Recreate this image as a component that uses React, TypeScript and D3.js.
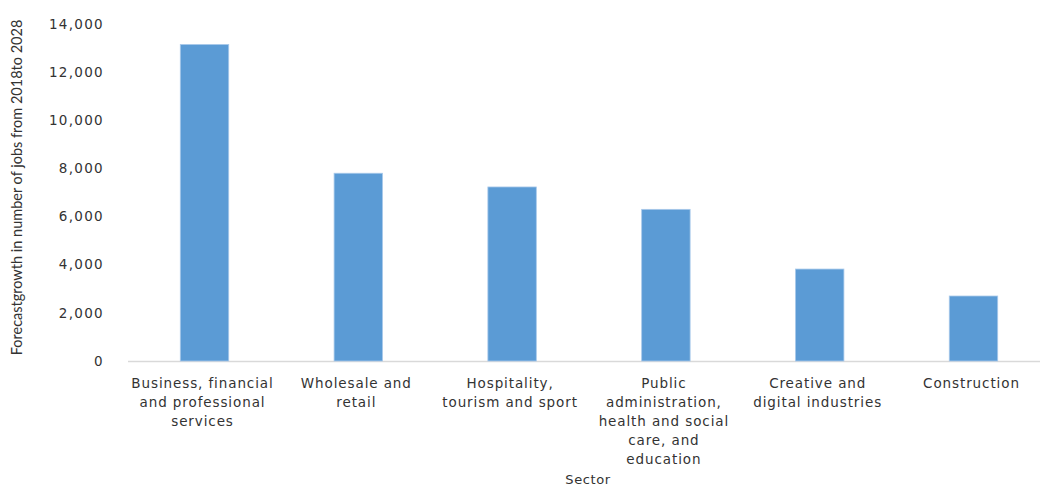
import React from "react";
import * as d3 from "d3";

const categories: string[][] = [
  ["Business, financial", "and professional", "services"],
  ["Wholesale and", "retail"],
  ["Hospitality,", "tourism and sport"],
  ["Public", "administration,", "health and social", "care, and", "education"],
  ["Creative and", "digital industries"],
  ["Construction"],
];
const values: number[] = [13150, 7800, 7230, 6300, 3820, 2700];
const yTicks: number[] = [0, 2000, 4000, 6000, 8000, 10000, 12000, 14000];
const yTitle = "Forecastgrowth in number of jobs from 2018to 2028";
const xTitle = "Sector";

const W = 1040;
const H = 486;
const left = 128;
const right = 1050;
const top = 24;
const bottom = 361;

export default function App() {
  const keys = categories.map((_, i) => String(i));
  const x = d3.scaleBand<string>().domain(keys).range([left, right]).paddingInner(0.685).paddingOuter(0.34);
  const y = d3.scaleLinear().domain([0, 14000]).range([bottom, top]);
  const fmt = d3.format(",");
  const textColor = "#333333";
  return (
    <svg width={W} height={H} style={{ position: "absolute", left: 0, top: 0, background: "#fff" }}>
      <line x1={left} x2={W} y1={bottom + 0.5} y2={bottom + 0.5} stroke="#d9d9d9" strokeWidth={1.5} />
      {values.map((v, i) => (
        <rect
          key={i}
          x={x(String(i))!}
          y={y(v)}
          width={x.bandwidth()}
          height={bottom - y(v)}
          fill="#5b9bd5"
          stroke="#a9c9ea"
          strokeWidth={0.8}
        />
      ))}
      {yTicks.map((t) => (
        <text
          key={t}
          x={104}
          y={y(t)}
          dy="0.35em"
          textAnchor="end"
          fontFamily="DejaVu Sans"
          fontSize={13.5}
          letterSpacing={1.3}
          fill={textColor}
        >
          {fmt(t)}
        </text>
      ))}
      {categories.map((lines, i) => {
        const cx = x(String(i))! + x.bandwidth() / 2 - 2;
        return (
          <text
            key={i}
            x={cx}
            y={388}
            textAnchor="middle"
            fontFamily="DejaVu Sans"
            fontSize={13.5}
            letterSpacing={0.9}
            fill={textColor}
          >
            {lines.map((l, j) => (
              <tspan key={j} x={cx} dy={j === 0 ? 0 : 19}>
                {l}
              </tspan>
            ))}
          </text>
        );
      })}
      <text x={588} y={484} textAnchor="middle" fontFamily="DejaVu Sans" fontSize={13} letterSpacing={0.6} fill={textColor}>
        {xTitle}
      </text>
      <text
        transform={`translate(22, ${(top + bottom) / 2 - 5}) rotate(-90)`}
        textAnchor="middle"
        fontFamily="Lato"
        fontSize={14.5}
        fill={textColor}
      >
        {yTitle}
      </text>
    </svg>
  );
}
